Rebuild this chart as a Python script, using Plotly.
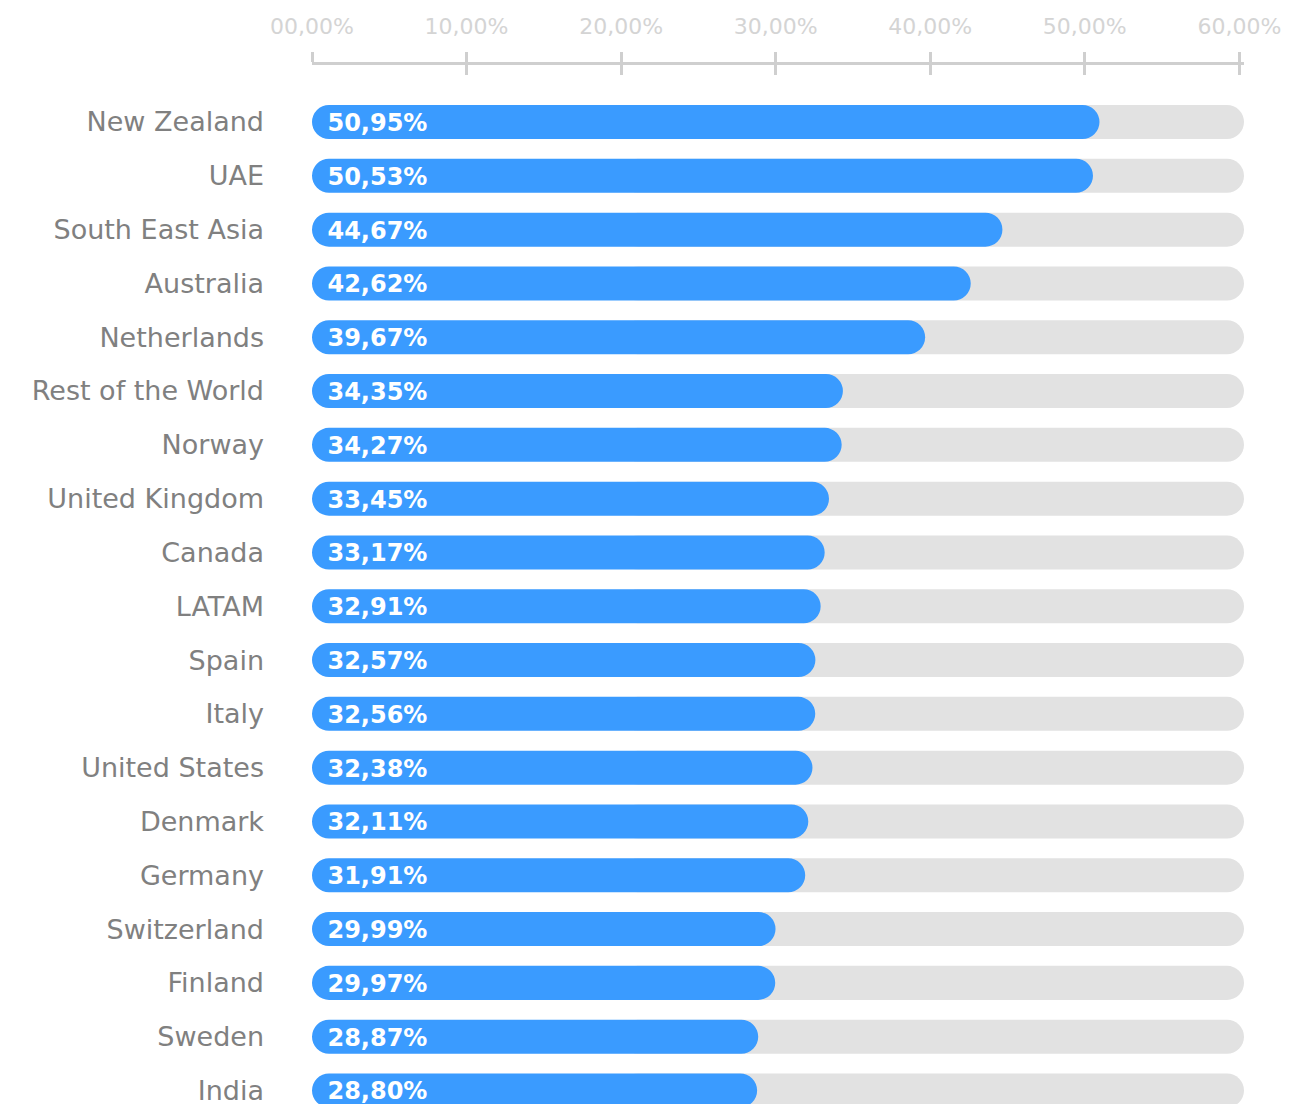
import plotly.graph_objects as go

categories = ["New Zealand", "UAE", "South East Asia", "Australia", "Netherlands",
              "Rest of the World", "Norway", "United Kingdom", "Canada", "LATAM",
              "Spain", "Italy", "United States", "Denmark", "Germany",
              "Switzerland", "Finland", "Sweden", "India"]
values = [50.95, 50.53, 44.67, 42.62, 39.67, 34.35, 34.27, 33.45, 33.17, 32.91,
          32.57, 32.56, 32.38, 32.11, 31.91, 29.99, 29.97, 28.87, 28.80]
value_labels = [f"{v:.2f}".replace(".", ",") + "%" for v in values]
tick_vals = [0, 10, 20, 30, 40, 50, 60]
tick_text = ["00,00%", "10,00%", "20,00%", "30,00%", "40,00%", "50,00%", "60,00%"]

TRACK_END = 60.3
TRACK_START = 20
BLUE = "#3a9bff"
TRACK = "#e2e2e2"
AXIS = "#cfcfcf"
FONT = "DejaVu Sans"
Y_RANGE = [18.40, -1.06]
LABEL_SHIFT = 0.055  # nudge value labels down (in category units)

n = len(categories)
fig = go.Figure()

# gray track (rounded right end; left end hidden under blue bar)
fig.add_trace(go.Bar(
    y=categories, x=[TRACK_END - TRACK_START] * n, base=[TRACK_START] * n,
    orientation="h", width=0.632,
    marker=dict(color=TRACK, cornerradius="50%", line=dict(width=0)),
    hoverinfo="skip", showlegend=False,
))
# blue value bars (drawn from value back to 0 so the rounded end is on the left)
fig.add_trace(go.Bar(
    y=categories, x=[-v for v in values], base=values,
    orientation="h", width=0.632,
    marker=dict(color=BLUE, cornerradius="50%", line=dict(width=0)),
    customdata=value_labels, hovertemplate="%{y}: %{customdata}<extra></extra>",
    showlegend=False,
))
# value labels
fig.add_trace(go.Scatter(
    y=categories, x=[1.0] * n, mode="text", text=value_labels,
    textposition="middle right",
    textfont=dict(family=FONT, size=24, color="white", weight="bold"),
    xaxis="x2", yaxis="y2", cliponaxis=False, hoverinfo="skip", showlegend=False,
))

fig.update_layout(
    width=1297, height=1104,
    margin=dict(l=304, r=61, t=57, b=0, pad=0),
    paper_bgcolor="white", plot_bgcolor="white",
    barmode="overlay",
    xaxis=dict(
        side="top", range=[0, TRACK_END], tickvals=tick_vals, ticktext=tick_text,
        showgrid=False, zeroline=False, showline=True, linecolor=AXIS, linewidth=3,
        ticks="outside", ticklen=10, tickwidth=3, tickcolor=AXIS,
        tickfont=dict(family=FONT, size=22, color="#d4d4d4"),
        ticklabelstandoff=9, fixedrange=True,
    ),
    xaxis2=dict(
        overlaying="x", matches="x", side="top", anchor="y2",
        tickvals=tick_vals, showticklabels=False,
        showgrid=False, zeroline=False, showline=False,
        ticks="inside", ticklen=10, tickwidth=3, tickcolor=AXIS,
    ),
    yaxis=dict(
        type="category", categoryorder="array", categoryarray=categories,
        range=Y_RANGE, showgrid=False, zeroline=False, showline=False,
        ticks="", tickfont=dict(family=FONT, size=27, color="#808080"),
        ticklabelstandoff=47, fixedrange=True,
    ),
    yaxis2=dict(
        overlaying="y", anchor="x2", type="category", categoryorder="array",
        categoryarray=categories,
        range=[Y_RANGE[0] - LABEL_SHIFT, Y_RANGE[1] - LABEL_SHIFT],
        visible=False, fixedrange=True,
    ),
)

fig.write_html("out.html")
